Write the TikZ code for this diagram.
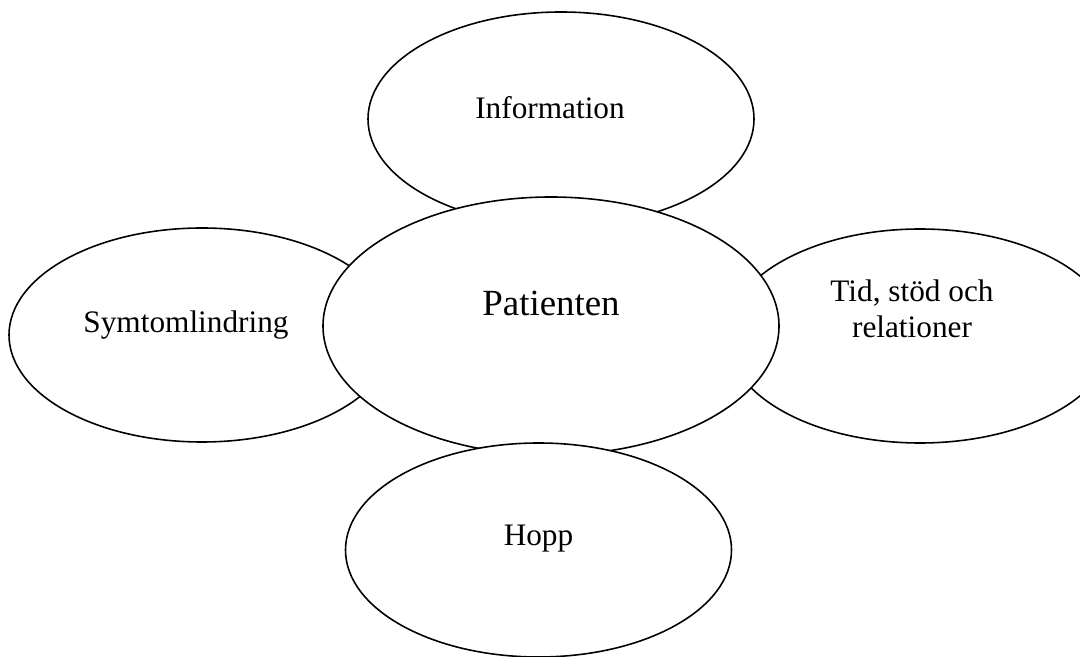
\documentclass[tikz,border=0pt]{standalone}
\usepackage{fontspec}
\setmainfont{Liberation Serif}
\usetikzlibrary{positioning,shapes.geometric}

\begin{document}
\begin{tikzpicture}[
    oval/.style={draw=black, line width=0.9pt, fill=white, ellipse, inner sep=0pt, minimum width=7.72cm, minimum height=4.28cm},
    bigoval/.style={oval, minimum width=9.12cm, minimum height=5.16cm},
    ovaltext/.style={font=\fontsize{17.8}{20.5}\selectfont, align=center, inner sep=0pt},
    bigtext/.style={font=\fontsize{21}{24}\selectfont, inner sep=0pt}
  ]
    \useasboundingbox (0,0) rectangle (21.6,13.14);
    \clip (0,0) rectangle (21.6,13.14);

    % outer ovals first, the centre one over them, Hopp on top
    \node[oval] (info) at (11.22,10.76) {};
    \node[oval] (symtom) at (4.04,6.44) {};
    \node[oval] (tid) at (18.40,6.42) {};
    \node[bigoval] (patient) at (11.02,6.62) {};
    \node[oval] (hopp) at (10.77,2.14) {};

    \node[ovaltext] (infotext) at ([shift={(-0.22,0.22)}]info.center) {Information};
    \node[ovaltext] (symtomtext) at ([shift={(-0.32,0.20)}]symtom.center) {Symtomlindring};
    \node[ovaltext] (tidtext) at ([shift={(-0.16,0.54)}]tid.center) {Tid, stöd och\\relationer};
    \node[bigtext] (patienttext) at ([shift={(0,0.46)}]patient.center) {Patienten};
    \node[ovaltext] (hopptext) at ([shift={(0,0.22)}]hopp.center) {Hopp};

  \end{tikzpicture}
\end{document}
